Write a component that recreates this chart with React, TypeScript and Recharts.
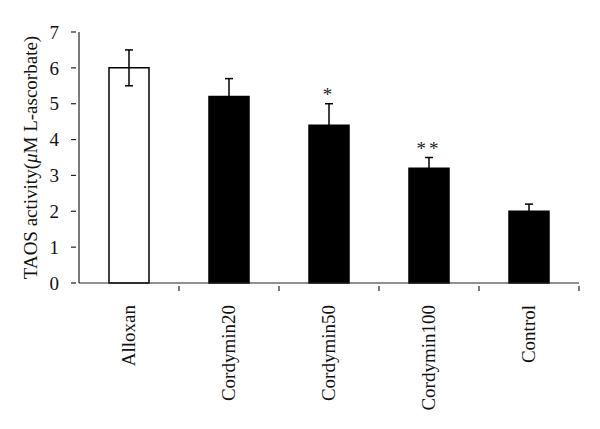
import { ComposedChart, Bar, Line, XAxis, YAxis, ErrorBar, Cell, LabelList, Label } from 'recharts'

const groups = ['Alloxan', 'Cordymin20', 'Cordymin50', 'Cordymin100', 'Control']
const activity = [6.0, 5.2, 4.4, 3.2, 2.0]
const sd = [0.5, 0.5, 0.6, 0.3, 0.2]
const significance = ['', '', '*', '**', '']
const yTicks = [0, 1, 2, 3, 4, 5, 6, 7]

const data = groups.map((name, i) => ({
  name,
  value: activity[i],
  err: sd[i],
  top: activity[i] + sd[i],
  sig: significance[i],
}))

const FONT = '"Liberation Serif", "Times New Roman", serif'
const AXIS = '#222'

const YTick = (props: any) => {
  const { x, y, payload } = props
  return (
    <g>
      <line x1={x} y1={y} x2={x + 5} y2={y} stroke={AXIS} strokeWidth={1.2} />
      <text x={x - 12} y={y} dy="0.35em" textAnchor="end" fontFamily={FONT} fontSize={19} fill="#111">
        {payload.value}
      </text>
    </g>
  )
}

const XTick = (props: any) => {
  const { x, y, payload } = props
  const half = payload.offset || 50
  return (
    <g>
      <line x1={x + half} y1={y} x2={x + half} y2={y - 5} stroke={AXIS} strokeWidth={1.2} />
      <text
        x={x}
        y={y + 14}
        dy="0.32em"
        transform={`rotate(-90, ${x}, ${y + 14})`}
        textAnchor="end"
        fontFamily={FONT}
        fontSize={19}
        fill="#111"
      >
        {payload.value}
      </text>
    </g>
  )
}

const YLabel = (props: any) => {
  const { viewBox } = props
  const cx = 37
  const cy = viewBox.y + viewBox.height / 2
  return (
    <text
      x={cx}
      y={cy}
      transform={`rotate(-90, ${cx}, ${cy})`}
      textAnchor="middle"
      fontFamily={FONT}
      fontSize={19}
      fill="#111"
    >
      TAOS activity(<tspan fontStyle="italic">μ</tspan>M L-ascorbate)
    </text>
  )
}

export default function App() {
  return (
    <div style={{ position: 'absolute', left: 0, top: 0, background: '#fff' }}>
      <ComposedChart
        width={600}
        height={429}
        data={data}
        margin={{ top: 32, right: 21, bottom: 0, left: 0 }}
        barCategoryGap="30%"
      >
        <XAxis
          dataKey="name"
          height={146}
          tickLine={false}
          axisLine={{ stroke: AXIS, strokeWidth: 1.2 }}
          tick={<XTick />}
          interval={0}
        />
        <YAxis
          width={79}
          domain={[0, 7]}
          ticks={yTicks}
          tickLine={false}
          axisLine={{ stroke: AXIS, strokeWidth: 1.2 }}
          tick={<YTick />}
        >
          <Label content={<YLabel />} />
        </YAxis>
        <Bar dataKey="value" isAnimationActive={false} stroke="#000" strokeWidth={1.5}>
          {data.map((d, i) => (
            <Cell key={d.name} fill={i === 0 ? '#fff' : '#000'} />
          ))}
          <ErrorBar dataKey="err" direction="y" width={4} stroke="#000" strokeWidth={1.5} />
        </Bar>
        <Line dataKey="top" stroke="none" dot={false} activeDot={false} isAnimationActive={false}>
          <LabelList
            dataKey="sig"
            position="top"
            offset={3}
            fontFamily={FONT}
            fontSize={19}
            fill="#222"
            letterSpacing={3}
          />
        </Line>
      </ComposedChart>
    </div>
  )
}
